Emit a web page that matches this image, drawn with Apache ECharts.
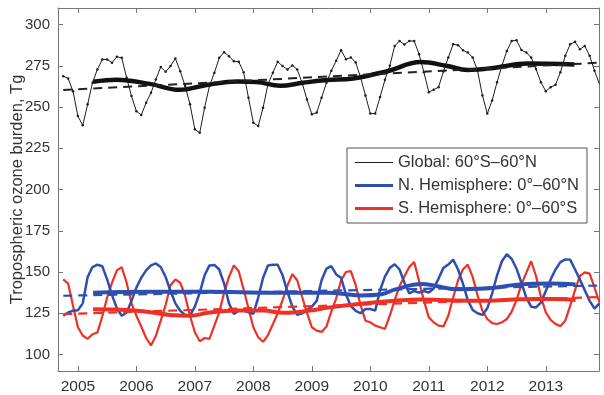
<!DOCTYPE html>
<html>
<head>
<meta charset="utf-8">
<script src="https://cdn.jsdelivr.net/npm/echarts@6/dist/echarts.min.js"></script>
<style>
  html, body { margin: 0; padding: 0; background: #fff; }
  #chart { width: 604px; height: 395px; }
</style>
</head>
<body>
<div id="chart"></div>
<script>
// monthly values, Oct 2004 .. Dec 2013
const startYear = 2004.75;

const globalVals = [
  268.7, 267.3, 259.6, 244.5, 238.9, 251.6, 264.7, 272.8, 278.8, 278.8,
  276.8, 280.4, 279.8, 267.7, 256.6, 247.5, 245.1, 252.6, 258.6, 266.7,
  274.2, 271.3, 274.8, 279.4, 271.7, 262.7, 251.6, 236.5, 234.4, 249.6,
  262.7, 270.7, 279.8, 283.2, 280.8, 277.8, 277.4, 271.1, 255.6, 240.5,
  238.5, 249.6, 263.7, 270.7, 277.4, 274.8, 272.8, 275.2, 272.8, 264.7,
  254.6, 245.6, 246.6, 255.6, 264.7, 272.0, 278.0, 284.4, 279.0, 280.0,
  277.0, 268.0, 257.0, 246.0, 246.0, 256.0, 266.5, 275.0, 287.0, 290.0,
  287.9, 290.0, 290.0, 282.0, 271.0, 259.0, 260.5, 262.0, 271.5, 280.0,
  288.0, 287.5, 284.4, 283.0, 280.0, 272.0, 257.0, 246.0, 254.0, 265.0,
  275.0, 284.0, 290.0, 290.5, 284.5, 283.0, 280.0, 273.0, 265.0, 259.5,
  262.0, 263.5, 271.0, 281.0, 288.0, 289.5, 285.0, 287.0, 281.0, 272.0,
  264.0
];

const nhVals = [
  123.5, 125.5, 126.5, 126.8, 131.0, 147.0, 153.0, 154.4, 153.5, 145.5,
  136.0, 128.0, 123.5, 125.5, 132.5, 140.5, 146.5, 151.0, 154.0, 155.2,
  153.0, 147.0, 138.5, 131.0, 126.5, 124.0, 123.5, 129.0, 137.5, 148.0,
  154.0, 154.3, 151.5, 143.0, 131.0, 124.6, 126.6, 126.6, 125.5, 124.6,
  134.5, 146.5, 154.0, 154.4, 154.4, 148.0, 138.0, 129.0, 124.0, 125.0,
  127.0, 129.0, 132.5, 145.0, 152.0, 153.5, 148.5, 146.5, 136.5, 129.3,
  126.5, 125.0, 127.6, 127.6, 126.6, 139.0, 147.2, 152.5, 154.7, 151.5,
  143.5, 137.0, 138.5, 137.5, 138.5, 137.5, 140.0, 146.0, 152.5, 154.5,
  157.5, 151.5, 143.0, 133.0, 127.0, 125.0, 124.0, 128.0, 137.0, 148.0,
  156.5, 160.8, 158.0, 152.0, 143.5, 134.5, 129.0, 128.5, 131.5, 138.5,
  145.5, 151.5, 156.0, 157.6, 157.5, 151.5, 145.5, 139.0, 132.5, 127.8,
  131.0
];

const shVals = [
  145.5, 143.0, 129.5, 116.5, 111.5, 109.5, 112.3, 113.3, 123.0, 134.5,
  143.5, 151.0, 153.0, 143.5, 131.0, 123.5, 117.0, 110.0, 105.5, 111.3,
  120.5, 130.0, 142.0, 145.5, 143.5, 135.5, 123.5, 113.5, 108.0, 110.0,
  109.5, 117.5, 125.5, 137.5, 147.0, 154.0, 150.5, 139.5, 128.0, 116.5,
  110.5, 107.7, 111.8, 118.3, 125.0, 133.0, 141.8, 148.7, 145.0, 135.0,
  125.3, 116.5, 114.5, 113.7, 117.0, 126.0, 134.0, 145.0, 150.0, 150.5,
  142.0, 130.0, 120.5, 119.5, 117.5, 116.5, 115.5, 123.5, 133.0, 141.5,
  147.5, 153.0, 156.0, 144.5, 132.5, 122.5, 119.5, 117.5, 117.0, 123.5,
  134.5, 145.0, 151.5, 154.5, 147.0, 136.0, 126.5, 121.5, 119.0, 118.5,
  119.5, 121.5, 126.0, 133.0, 142.5, 149.5, 156.5, 147.5, 135.0, 125.5,
  121.0, 118.5, 117.2, 120.5, 129.5, 139.0, 147.7, 149.8, 149.0, 140.5,
  131.5
];

// smoothed curves (read at a few dates)
const globalSmoothT = [2005.26, 2005.66, 2006.23, 2006.74, 2007.20, 2007.72, 2008.06, 2008.46, 2008.85, 2009.26, 2009.71, 2010.29, 2010.86, 2011.32, 2011.66, 2012.11, 2012.69, 2013.49];
const globalSmoothV = [265.3, 266.5, 264.0, 260.4, 263.3, 265.5, 265.1, 262.9, 264.7, 266.3, 267.3, 271.7, 277.2, 274.8, 272.4, 273.7, 276.4, 275.8];

const nhSmoothT = [2005.26, 2006.23, 2007.26, 2008.29, 2009.28, 2009.83, 2010.19, 2010.43, 2010.88, 2011.11, 2011.46, 2011.97, 2012.57, 2013.08, 2013.51];
const nhSmoothV = [137.5, 138.0, 138.0, 137.5, 137.5, 135.8, 136.5, 139.5, 142.7, 141.7, 139.6, 140.0, 142.5, 143.0, 142.5];

const shSmoothT = [2005.26, 2005.66, 2006.11, 2006.57, 2006.91, 2007.26, 2007.72, 2008.17, 2008.51, 2008.97, 2009.28, 2009.85, 2010.43, 2010.86, 2011.42, 2012.01, 2012.57, 2013.14, 2013.51];
const shSmoothV = [127.5, 127.3, 126.2, 124.0, 123.5, 125.5, 126.6, 126.6, 125.3, 126.6, 128.4, 130.8, 132.6, 133.4, 132.8, 132.6, 133.5, 133.6, 133.0];

// linear trends (end points)
const trendT = [2004.75, 2013.9];
const globalTrend = [260.3, 276.8];
const nhTrend = [135.6, 141.8];
const shTrend = [124.5, 134.8];

const yearTicks = [2005, 2006, 2007, 2008, 2009, 2010, 2011, 2012, 2013];
const yTicks = [100, 125, 150, 175, 200, 225, 250, 275, 300];

const names = ['Global: 60°S–60°N', 'N. Hemisphere: 0°–60°N', 'S. Hemisphere: 0°–60°S'];

const monthly = (vals) => vals.map((v, i) => [startYear + i / 12, v]);
const pairs = (t, v) => t.map((x, i) => [x, v[i]]);

const FONT = 'Liberation Sans, Arial, sans-serif';
const BLACK = '#1e1e1e';
const BLUE = '#2f4fb0';
const RED = '#ee3124';

const baseX = {
  type: 'value',
  min: 2004.66,
  max: 2013.91,
  splitLine: { show: false },
  axisLine: { lineStyle: { color: '#777', width: 1 } },
  axisTick: { inside: true, length: 5, customValues: yearTicks, lineStyle: { color: '#777' } }
};
const baseY = {
  type: 'value',
  min: 90,
  max: 310,
  splitLine: { show: false },
  axisLine: { show: true, lineStyle: { color: '#777', width: 1 } },
  axisTick: { show: true, inside: true, length: 5, customValues: yTicks, lineStyle: { color: '#777' } }
};

const legendIcon = (h) => 'path://M0,0L40,0L40,' + h + 'L0,' + h + 'Z';

const option = {
  animation: false,
  backgroundColor: '#fff',
  grid: { left: 58, right: 5, top: 8, bottom: 24, containLabel: false, outerBoundsMode: 'none' },
  legend: {
    orient: 'vertical',
    left: 347,
    top: 148,
    padding: [6, 8, 6, 8],
    itemGap: 6,
    itemWidth: 38,
    itemHeight: 14,
    backgroundColor: '#fff',
    borderColor: '#555',
    borderWidth: 1,
    borderRadius: 0,
    textStyle: { fontFamily: FONT, fontSize: 16.5, color: '#333' },
    data: [
      { name: names[0], icon: legendIcon(1.2) },
      { name: names[1], icon: legendIcon(3) },
      { name: names[2], icon: legendIcon(3) }
    ]
  },
  xAxis: [
    Object.assign({}, baseX, {
      position: 'bottom',
      axisLabel: { customValues: yearTicks, formatter: (v) => String(v), color: '#333', fontFamily: FONT, fontSize: 15.5, margin: 8 }
    }),
    Object.assign({}, baseX, { position: 'top', axisLabel: { show: false } })
  ],
  yAxis: [
    Object.assign({}, baseY, {
      position: 'left',
      name: 'Tropospheric ozone burden, Tg',
      nameLocation: 'middle',
      nameGap: 32,
      nameMoveOverlap: false,
      nameTextStyle: { fontFamily: FONT, fontSize: 16.5, color: '#333' },
      axisLabel: { customValues: yTicks, color: '#333', fontFamily: FONT, fontSize: 15, margin: 8 }
    }),
    Object.assign({}, baseY, { position: 'right', axisLabel: { show: false } })
  ],
  series: [
    {
      name: names[0], type: 'line', data: monthly(globalVals),
      symbol: 'circle', symbolSize: 2.5, showSymbol: true,
      itemStyle: { color: BLACK },
      lineStyle: { color: BLACK, width: 1 }, z: 3
    },
    {
      name: 'Global smooth', type: 'line', data: pairs(globalSmoothT, globalSmoothV),
      smooth: 0.4, showSymbol: false, lineStyle: { color: '#111', width: 4.5 }, z: 4
    },
    {
      name: 'Global trend', type: 'line', data: pairs(trendT, globalTrend),
      showSymbol: false, lineStyle: { color: '#222', width: 2, type: [9, 6] }, z: 4
    },
    {
      name: names[2], type: 'line', data: monthly(shVals),
      showSymbol: false, itemStyle: { color: RED },
      lineStyle: { color: RED, width: 2.2 }, z: 3
    },
    {
      name: names[1], type: 'line', data: monthly(nhVals),
      showSymbol: false, itemStyle: { color: BLUE },
      lineStyle: { color: BLUE, width: 2.5 }, z: 3
    },
    {
      name: 'SH smooth', type: 'line', data: pairs(shSmoothT, shSmoothV),
      smooth: 0.4, showSymbol: false, lineStyle: { color: RED, width: 4 }, z: 4
    },
    {
      name: 'SH trend', type: 'line', data: pairs(trendT, shTrend),
      showSymbol: false, lineStyle: { color: RED, width: 2.2, type: [9, 6] }, z: 4
    },
    {
      name: 'NH smooth', type: 'line', data: pairs(nhSmoothT, nhSmoothV),
      smooth: 0.4, showSymbol: false, lineStyle: { color: BLUE, width: 4 }, z: 4
    },
    {
      name: 'NH trend', type: 'line', data: pairs(trendT, nhTrend),
      showSymbol: false, lineStyle: { color: BLUE, width: 2.2, type: [9, 6] }, z: 4
    }
  ]
};

const chart = echarts.init(document.getElementById('chart'), null, { renderer: 'canvas' });
chart.setOption(option);
</script>
</body>
</html>
